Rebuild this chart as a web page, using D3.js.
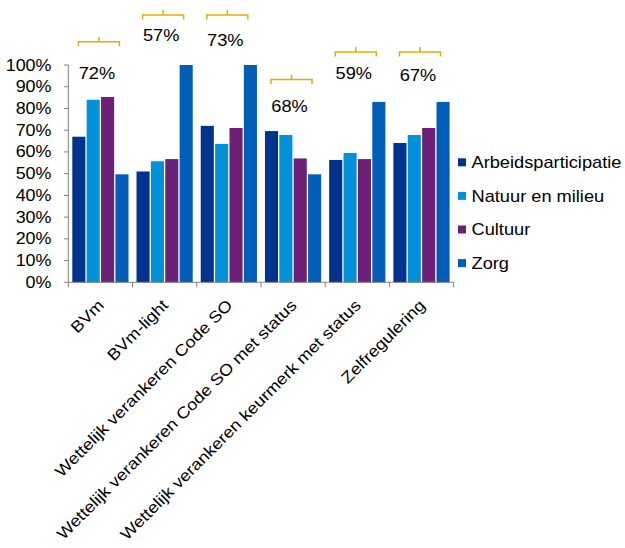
<!DOCTYPE html>
<html><head><meta charset="utf-8">
<script src="https://cdn.jsdelivr.net/npm/d3@7"></script>
<style>
html,body{margin:0;padding:0;background:#fff;}
text{font-family:"Liberation Sans",Arial,sans-serif;fill:#000;}
</style></head>
<body>
<svg id="c" width="625" height="548"></svg>
<script>
const categories = ["BVm","BVm-light","Wettelijk verankeren Code SO","Wettelijk verankeren Code SO met status","Wettelijk verankeren keurmerk met status","Zelfregulering"];
const seriesNames = ["Arbeidsparticipatie","Natuur en milieu","Cultuur","Zorg"];
const arbeid = [67,51,72,69.6,56.3,64.1];
const natuur = [84,55.7,63.7,67.8,59.5,67.8];
const cultuur = [85.3,56.7,71,57,56.7,71];
const zorg = [49.7,100,100,49.7,83,83];
const colors = ["#00338D","#0091DA","#6D2077","#005EB8"];
const yTicks = [0,10,20,30,40,50,60,70,80,90,100];
const bracketLabels = ["72%","57%","73%","68%","59%","67%"];
const bracketLevels = [110.7,123,123,93.3,106,106];
const bracketLabelLevels = [96.5,114,111.5,81,96.3,95.4];

const series = [arbeid,natuur,cultuur,zorg];
const svg = d3.select("#c");
const x = d3.scaleBand().domain(categories).range([68.3,453.6]).padding(0);
const x1 = d3.scaleBand().domain(seriesNames).range([4, x.bandwidth()-4]).paddingInner(0.09);
const y = d3.scaleLinear().domain([0,100]).range([282.3,65]);

// bars
const g = svg.append("g");
categories.forEach((c,i)=>{
  seriesNames.forEach((s,j)=>{
    g.append("rect")
      .attr("x", x(c)+x1(s)).attr("width", x1.bandwidth())
      .attr("y", y(series[j][i])).attr("height", y(0)-y(series[j][i]))
      .attr("fill", colors[j]);
  });
});

// y axis
const ya = svg.append("g");
ya.append("line").attr("x1",68.3).attr("x2",68.3).attr("y1",y(0)).attr("y2",y(100)).attr("stroke","#808080").attr("stroke-width",1);
yTicks.forEach(t=>{
  ya.append("line").attr("x1",64).attr("x2",68.3).attr("y1",y(t)).attr("y2",y(t)).attr("stroke","#808080");
  ya.append("text").attr("transform",`translate(51.5,${y(t)+5.5}) scale(1.12,1)`)
    .attr("text-anchor","end").attr("font-size",16).text(t+"%");
});
// x axis
const xa = svg.append("g");
xa.append("line").attr("x1",68.3).attr("x2",453.6).attr("y1",y(0)).attr("y2",y(0)).attr("stroke","#808080");
const bounds = categories.map(c=>x(c)).concat([x(categories[categories.length-1])+x.bandwidth()]);
bounds.forEach(b=>{
  xa.append("line").attr("x1",b).attr("x2",b).attr("y1",y(0)).attr("y2",y(0)+5).attr("stroke","#808080");
});
categories.forEach(c=>{
  const cx = x(c)+x.bandwidth()/2;
  xa.append("text").attr("transform",`translate(${cx+4.5},${y(0)+24}) rotate(-45) scale(1.13,1)`)
    .attr("text-anchor","end").attr("font-size",16).text(c);
});

// brackets
const bg = svg.append("g");
categories.forEach((c,i)=>{
  const cx = x(c)+x.bandwidth()/2 - 1.5;
  const by = y(bracketLevels[i]);
  const hw = 20.5;
  bg.append("path").attr("d",`M${cx-hw},${by+4.5}V${by}H${cx+hw}V${by+4.5}M${cx},${by}V${by-5}`)
    .attr("fill","none").attr("stroke","#EAAA00").attr("stroke-width",1.5);
  bg.append("text").attr("transform",`translate(${cx-2},${y(bracketLabelLevels[i])+6}) scale(1.14,1)`)
    .attr("text-anchor","middle").attr("font-size",16).text(bracketLabels[i]);
});

// legend
const lg = svg.append("g");
seriesNames.forEach((s,j)=>{
  const cy = 162.3 + j*33.6;
  lg.append("rect").attr("x",458).attr("y",cy-4).attr("width",8).attr("height",8).attr("fill",colors[j]);
  lg.append("text").attr("transform",`translate(471.5,${cy+5.7}) scale(1.14,1)`)
    .attr("font-size",16).text(s);
});
</script>
</body></html>
